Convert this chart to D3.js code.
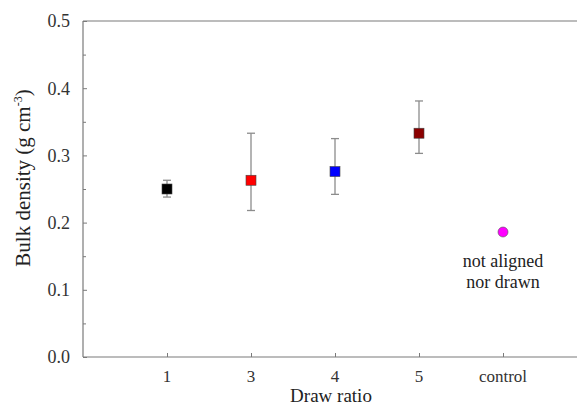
<!DOCTYPE html>
<html>
<head>
<meta charset="utf-8">
<script src="https://cdn.jsdelivr.net/npm/d3@7/dist/d3.min.js"></script>
<style>
  html, body { margin: 0; padding: 0; background: #fff; }
  svg { display: block; }
</style>
</head>
<body>
<svg id="chart" width="577" height="407"></svg>
<script>
// Bulk density by draw ratio, with standard-deviation error bars
const categories = ["1", "3", "4", "5", "control"];
const density    = [0.250, 0.263, 0.276, 0.333, 0.186];
const errLow     = [0.238, 0.218, 0.242, 0.303, null];
const errHigh    = [0.263, 0.333, 0.325, 0.381, null];
const colors     = ["#000000", "#ff0000", "#0000ff", "#8b0000", "#ff00ff"];
const markers    = ["square", "square", "square", "square", "circle"];
const yTicks     = [0.0, 0.1, 0.2, 0.3, 0.4, 0.5];
const yMinor     = [0.05, 0.15, 0.25, 0.35, 0.45];
const controlNote = ["not aligned", "nor drawn"];

const FONT = "Liberation Serif";
const svg = d3.select("#chart");
const plotL = 83, plotR = 587, plotT = 21, plotB = 357;
const axisColor = "#7a7a7a";

const x = d3.scalePoint().domain(categories).range([plotL, plotR]).padding(1);
const y = d3.scaleLinear().domain([0, 0.5]).range([plotB, plotT]);

// Frame: left axis, bottom axis and top border
svg.append("line").attr("x1", plotL).attr("x2", plotR).attr("y1", plotT).attr("y2", plotT)
  .attr("stroke", axisColor).attr("stroke-width", 1.2);

const yAxis = svg.append("g").attr("transform", `translate(${plotL},0)`)
  .call(d3.axisRight(y).tickValues(yTicks).tickSize(4).tickFormat(""));
yAxis.select(".domain").attr("d", `M0,${plotB}V${plotT}`)
  .attr("stroke", axisColor).attr("stroke-width", 1.2);
yAxis.selectAll(".tick line").attr("stroke", axisColor);
const yMinorAxis = svg.append("g").attr("transform", `translate(${plotL},0)`)
  .call(d3.axisRight(y).tickValues(yMinor).tickSize(3).tickFormat(""));
yMinorAxis.select(".domain").remove();
yMinorAxis.selectAll(".tick line").attr("stroke", axisColor);

svg.append("g").selectAll("text").data(yTicks).join("text")
  .attr("font-family", FONT)
  .attr("x", 70).attr("y", d => y(d)).attr("dy", "0.35em")
  .attr("text-anchor", "end").attr("font-size", 18).attr("fill", "#333")
  .text(d => d3.format(".1f")(d));

const xAxis = svg.append("g").attr("transform", `translate(0,${plotB})`)
  .call(d3.axisTop(x).tickSize(4).tickFormat(""));
xAxis.select(".domain").attr("d", `M${plotL},0H${plotR}`)
  .attr("stroke", axisColor).attr("stroke-width", 1.2);
xAxis.selectAll(".tick line").attr("stroke", axisColor);

svg.append("g").selectAll("text").data(categories).join("text")
  .attr("font-family", FONT)
  .attr("x", d => x(d)).attr("y", 382)
  .attr("text-anchor", "middle").attr("font-size", 17).attr("fill", "#333")
  .text(d => d);

// Axis titles
svg.append("text").attr("font-family", FONT).attr("x", 331).attr("y", 402)
  .attr("text-anchor", "middle").attr("font-size", 19).attr("fill", "#222")
  .text("Draw ratio");

const yTitle = svg.append("text").attr("font-family", FONT)
  .attr("transform", "translate(30,178) rotate(-90)")
  .attr("text-anchor", "middle").attr("font-size", 21).attr("fill", "#222");
yTitle.append("tspan").text("Bulk density (g cm");
yTitle.append("tspan").attr("font-size", 12).attr("dy", -8).text("-3");
yTitle.append("tspan").attr("dy", 8).text(")");

// Error bars
const points = categories.map((c, i) => ({
  c, v: density[i], lo: errLow[i], hi: errHigh[i], color: colors[i], marker: markers[i]
}));
const eb = svg.append("g").selectAll("g").data(points.filter(d => d.lo != null)).join("g")
  .attr("stroke", "#8c8c8c").attr("stroke-width", 1.3);
eb.append("line").attr("x1", d => x(d.c)).attr("x2", d => x(d.c))
  .attr("y1", d => y(d.hi)).attr("y2", d => y(d.lo));
eb.append("line").attr("x1", d => x(d.c) - 4).attr("x2", d => x(d.c) + 4)
  .attr("y1", d => y(d.hi)).attr("y2", d => y(d.hi));
eb.append("line").attr("x1", d => x(d.c) - 4).attr("x2", d => x(d.c) + 4)
  .attr("y1", d => y(d.lo)).attr("y2", d => y(d.lo));

// Markers
const mk = svg.append("g");
mk.selectAll("rect").data(points.filter(d => d.marker === "square")).join("rect")
  .attr("x", d => x(d.c) - 5).attr("y", d => y(d.v) - 5)
  .attr("width", 10).attr("height", 10)
  .attr("fill", d => d.color).attr("stroke", "#444").attr("stroke-width", 0.6);
mk.selectAll("circle").data(points.filter(d => d.marker === "circle")).join("circle")
  .attr("cx", d => x(d.c)).attr("cy", d => y(d.v)).attr("r", 5)
  .attr("fill", d => d.color).attr("stroke", "#555").attr("stroke-width", 0.6);

// Note under the control point
svg.append("g").selectAll("text").data(controlNote).join("text")
  .attr("font-family", FONT)
  .attr("x", x("control")).attr("y", (d, i) => 267 + i * 21)
  .attr("text-anchor", "middle").attr("font-size", 18).attr("fill", "#222")
  .text(d => d);
</script>
</body>
</html>
